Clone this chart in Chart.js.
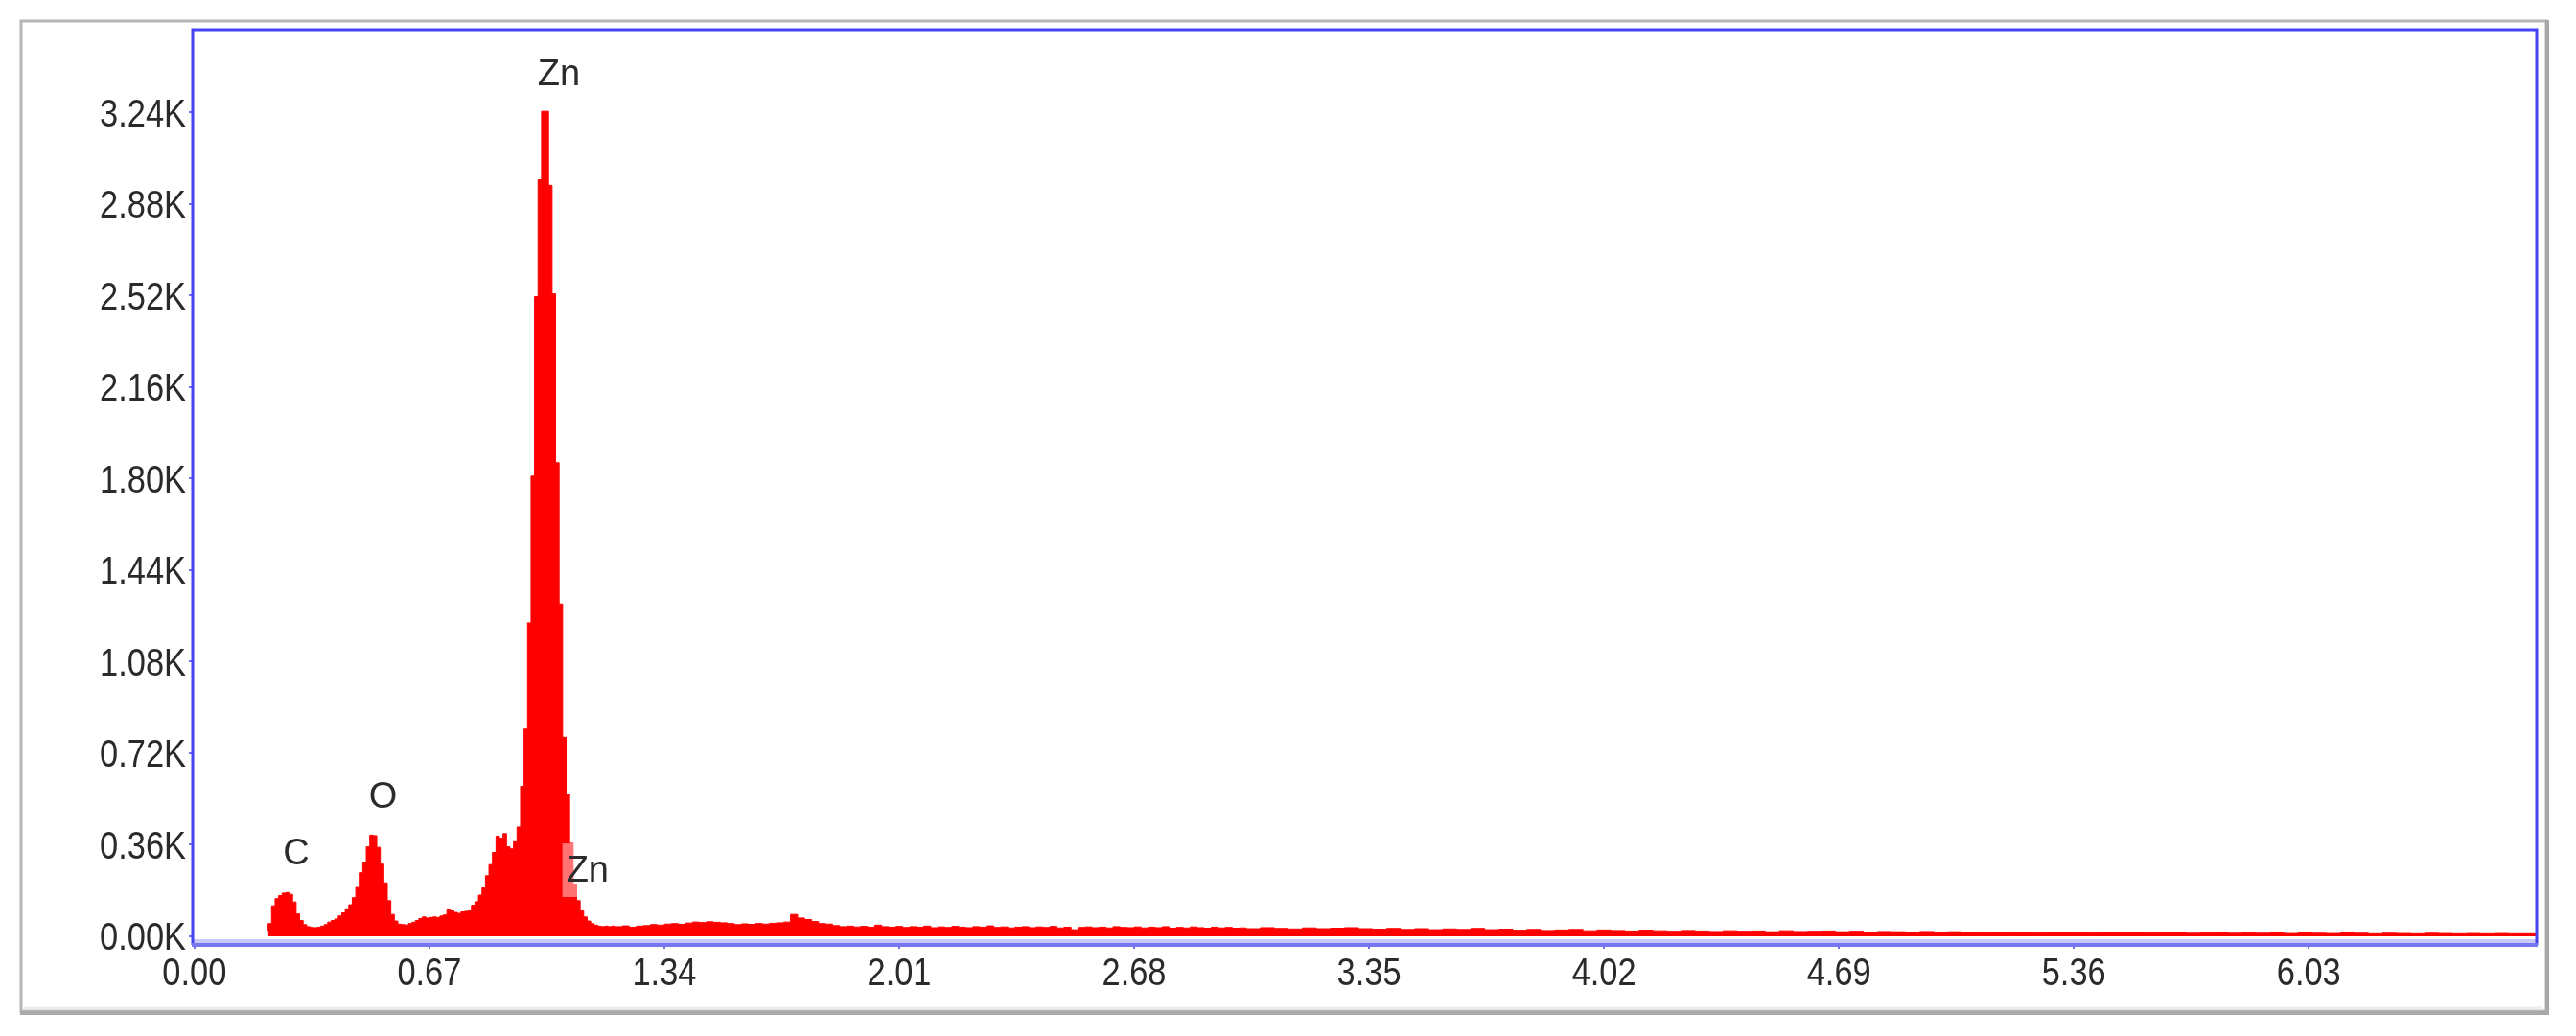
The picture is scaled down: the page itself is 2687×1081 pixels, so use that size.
<!DOCTYPE html>
<html>
<head>
<meta charset="utf-8">
<script src="https://cdn.jsdelivr.net/npm/chart.js@4.4.1/dist/chart.umd.min.js"></script>
<style>
  html, body { margin: 0; padding: 0; background: #fff; }
  #wrap { position: relative; width: 2687px; height: 1081px; }
</style>
</head>
<body>
<div id="wrap"><canvas id="eds" width="2687" height="1081"></canvas></div>
<script>
// EDS spectrum, counts per channel.
// Low-energy part: channels of 0.01 keV starting at 0.21 keV
const lowStart = 0.21, lowStep = 0.01;
const lowCounts = [
  22, 50, 120, 148, 160, 170, 172, 165, 135, 88,
  62, 46, 38, 35, 34, 36, 40, 46, 56, 62,
  68, 80, 92, 108, 124, 152, 192, 250, 292, 352,
  398, 396, 350, 284, 210, 140, 86, 60, 48, 46,
  44, 50, 55, 62, 70, 76, 72, 74, 76, 74,
  80, 84, 104, 100, 94, 90, 96, 98, 100, 122,
  136, 162, 190, 238, 282, 330, 394, 386, 404, 352,
  344, 372, 430, 590, 815, 1233, 1810, 2516, 2976, 3245,
  3245, 2954, 2527, 1863, 1307, 783, 559, 366, 205, 140,
  100, 76, 60, 50, 44, 40, 38, 40, 38
];
// 1.20 - 2.98 keV, 0.02 keV bins
const midStart = 1.20, midStep = 0.02;
const midCounts = [
  40, 38, 41, 36, 40, 42, 46, 44, 48, 50,
  47, 52, 56, 54, 57, 55, 53, 50, 46, 49,
  47, 50, 48, 51, 53, 56, 86, 72, 66, 58,
  50, 48, 42, 38, 40, 37, 39, 36, 44, 38,
  36, 39, 35, 38, 36, 40, 34, 37, 35, 39,
  36, 34, 38, 36, 41, 35, 37, 33, 36, 38,
  34, 37, 35, 39, 33, 36, 26, 35, 37, 34,
  36, 33, 38, 35, 34, 37, 33, 36, 34, 38,
  32, 35, 33, 37, 34, 32, 36, 33, 35, 32
];
// 3.00 - 6.64 keV, 0.04 keV bins
const highStart = 3.00, highStep = 0.04;
const highCounts = [
  33, 30, 34, 31, 29, 33, 30, 32, 34, 30,
  28, 31, 27, 30, 26, 29, 27, 31, 26, 28,
  24, 27, 23, 25, 27, 22, 25, 23, 21, 24,
  22, 20, 23, 21, 19, 22, 20, 21, 18, 22,
  19, 20, 21, 18, 20, 17, 19, 18, 16, 19,
  17, 18, 16, 17, 15, 17, 16, 14, 16, 15,
  17, 14, 15, 13, 16, 14, 13, 15, 12, 14,
  13, 12, 14, 12, 13, 11, 13, 12, 11, 13,
  12, 10, 12, 11, 10, 12, 11, 10, 11, 10,
  11, 10
];
const endEnergy = 6.68;

const xTicks = [0.00, 0.67, 1.34, 2.01, 2.68, 3.35, 4.02, 4.69, 5.36, 6.03];
const yTicks = [0, 360, 720, 1080, 1440, 1800, 2160, 2520, 2880, 3240];

// element markers: text, energy (keV), counts
const markText = ['C', 'O', 'Zn', 'Zn'];
const markEnergy = [0.29, 0.538, 1.039, 1.121];
const markCounts = [328, 554, 3395, 260];

// build the spectrum points (channel left edge, counts)
const spectrum = [];
lowCounts.forEach((c, i) => spectrum.push({x: +(lowStart + i * lowStep).toFixed(3), y: c}));
midCounts.forEach((c, i) => spectrum.push({x: +(midStart + i * midStep).toFixed(3), y: c}));
highCounts.forEach((c, i) => spectrum.push({x: +(highStart + i * highStep).toFixed(3), y: c}));
spectrum.push({x: endEnergy, y: highCounts[highCounts.length - 1]});

const tickFont = "40px 'Liberation Sans', Arial, sans-serif";
const markFont = "38px 'Liberation Sans', Arial, sans-serif";
const squeeze = 0.86; // the tick digits in the original are narrow

function narrowText(ctx, text, x, y) {
  ctx.save();
  ctx.translate(x, y);
  ctx.scale(squeeze, 1);
  ctx.fillText(text, 0, 0);
  ctx.restore();
}

const framePlugin = {
  id: 'frames',
  beforeDraw(chart) {
    const ctx = chart.ctx;
    ctx.save();
    // outer grey box
    ctx.strokeStyle = '#b6b6b6';
    ctx.lineWidth = 3;
    ctx.strokeRect(22, 22, 2634, 1033);
    ctx.strokeStyle = '#a9a9a9';
    ctx.lineWidth = 4;
    ctx.beginPath();
    ctx.moveTo(2657, 21); ctx.lineTo(2657, 1057); ctx.lineTo(21, 1057);
    ctx.stroke();
    ctx.strokeStyle = '#ececec';
    ctx.lineWidth = 3;
    ctx.beginPath();
    ctx.moveTo(25, 1052); ctx.lineTo(2652, 1052);
    ctx.stroke();
    ctx.restore();
  },
  afterDatasetsDraw(chart) {
    const ctx = chart.ctx;
    const a = chart.chartArea;
    const xs = chart.scales.x, ys = chart.scales.y;
    ctx.save();
    // blue plot frame
    ctx.strokeStyle = '#c9c9f7';
    ctx.lineWidth = 4;
    ctx.beginPath();
    ctx.moveTo(a.left, a.bottom - 4); ctx.lineTo(a.right, a.bottom - 4);
    ctx.stroke();
    ctx.strokeStyle = '#4343f4';
    ctx.lineWidth = 3;
    ctx.beginPath();
    ctx.moveTo(a.left, a.bottom); ctx.lineTo(a.left, a.top);
    ctx.lineTo(a.right, a.top); ctx.lineTo(a.right, a.bottom);
    ctx.stroke();
    ctx.strokeStyle = '#7676ee';
    ctx.lineWidth = 4;
    ctx.beginPath();
    ctx.moveTo(a.left - 1, a.bottom); ctx.lineTo(a.right + 1, a.bottom);
    ctx.stroke();

    // tick labels
    ctx.fillStyle = '#2a2a2a';
    ctx.font = tickFont;
    ctx.textBaseline = 'middle';
    ctx.textAlign = 'right';
    yTicks.forEach(v => {
      narrowText(ctx, (v / 1000).toFixed(2) + 'K', a.left - 7, ys.getPixelForValue(v) + 3);
    });
    ctx.textAlign = 'center';
    xTicks.forEach(v => {
      narrowText(ctx, v.toFixed(2), xs.getPixelForValue(v), 1017);
    });

    // element labels
    ctx.font = markFont;
    markText.forEach((t, i) => {
      const px = xs.getPixelForValue(markEnergy[i]);
      const py = ys.getPixelForValue(markCounts[i]);
      if (i === 3) {
        const w = ctx.measureText(t).width + 8;
        ctx.fillStyle = 'rgba(255,255,255,0.45)';
        ctx.fillRect(px - w / 2, py - 28, w, 56);
      }
      ctx.fillStyle = '#2b2b2b';
      ctx.fillText(t, px, py + 2);
    });
    ctx.restore();
  }
};

new Chart(document.getElementById('eds'), {
  type: 'line',
  data: {
    datasets: [{
      data: spectrum,
      stepped: 'after',
      fill: 'origin',
      backgroundColor: '#ff0000',
      borderColor: '#ff0000',
      borderWidth: 1,
      pointRadius: 0
    }]
  },
  options: {
    responsive: false,
    animation: false,
    devicePixelRatio: 1,
    layout: {padding: {left: 0, top: 31, right: 41, bottom: 0}},
    plugins: {legend: {display: false}, tooltip: {enabled: false}},
    scales: {
      x: {
        type: 'linear',
        min: -0.005,
        max: 6.68,
        border: {display: false},
        grid: {drawOnChartArea: false, drawTicks: true, tickLength: 4, color: '#7070ee', lineWidth: 2},
        afterBuildTicks: (s) => { s.ticks = xTicks.map(v => ({value: v})); },
        afterFit: (s) => { s.height = 95; },
        ticks: {display: false, autoSkip: false}
      },
      y: {
        min: -34,
        max: 3566,
        border: {display: false},
        grid: {drawOnChartArea: false, drawTicks: true, tickLength: 4, color: '#7070ee', lineWidth: 2},
        afterBuildTicks: (s) => { s.ticks = yTicks.map(v => ({value: v})); },
        afterFit: (s) => { s.width = 201; },
        ticks: {display: false, autoSkip: false}
      }
    }
  },
  plugins: [framePlugin]
});
</script>
</body>
</html>
